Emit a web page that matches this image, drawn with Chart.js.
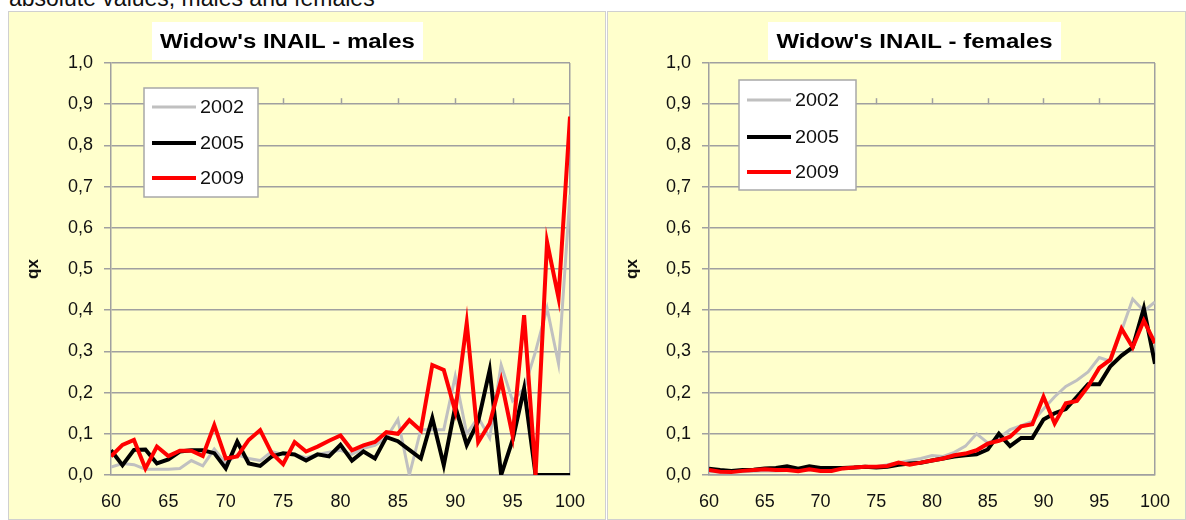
<!DOCTYPE html>
<html>
<head>
<meta charset="utf-8">
<script src="https://cdn.jsdelivr.net/npm/chart.js@4.4.1/dist/chart.umd.min.js"></script>
<style>
    body { margin: 0; background: #fff; width: 1186px; height: 520px; overflow: hidden; position: relative; font-family: "Liberation Sans", Arial, sans-serif; }
    #caption { position: absolute; left: 9px; top: -15px; font-size: 23px; color: #111; white-space: nowrap; }
    .panel { position: absolute; top: 11px; height: 509px; background: #FFFFCC; border: 1px solid #d0d0d0; box-sizing: border-box; }
    canvas { position: absolute; top: 12px; }
</style>
</head>
<body>
<div id="caption">absolute values, males and females</div>
<div class="panel" style="left:8px; width:598px;"></div>
<div class="panel" style="left:607px; width:579px;"></div>
<canvas id="chartMales" width="597" height="508" style="left:9px"></canvas>
<canvas id="chartFemales" width="578" height="508" style="left:608px"></canvas>
<script>
// ages (x axis)
const AGES = [60, 61, 62, 63, 64, 65, 66, 67, 68, 69, 70, 71, 72, 73, 74, 75, 76, 77, 78, 79, 80,
              81, 82, 83, 84, 85, 86, 87, 88, 89, 90, 91, 92, 93, 94, 95, 96, 97, 98, 99, 100];
const YEARS = ["2002", "2005", "2009"];

// qx - males
const MALES_2002 = [0.019, 0.028, 0.025, 0.014, 0.014, 0.014, 0.016, 0.035, 0.022, 0.063, 0.028,
                    0.049, 0.040, 0.035, 0.057, 0.050, 0.050, 0.042, 0.050, 0.055, 0.060,
                    0.050, 0.065, 0.072, 0.090, 0.135, 0.000, 0.110, 0.110, 0.110, 0.240,
                    0.100, 0.140, 0.090, 0.267, 0.180, 0.210, 0.300, 0.405, 0.270, 0.680];
const MALES_2005 = [0.060, 0.024, 0.061, 0.062, 0.028, 0.038, 0.057, 0.060, 0.060, 0.053, 0.016,
                    0.081, 0.028, 0.022, 0.045, 0.053, 0.050, 0.035, 0.050, 0.045, 0.073,
                    0.035, 0.057, 0.040, 0.092, 0.082, 0.061, 0.040, 0.138, 0.024, 0.166,
                    0.073, 0.130, 0.255, 0.000, 0.085, 0.210, 0.000, 0.000, 0.000, 0.000];
const MALES_2009 = [0.045, 0.073, 0.085, 0.016, 0.069, 0.046, 0.059, 0.059, 0.046, 0.121, 0.040,
                    0.045, 0.085, 0.109, 0.053, 0.026, 0.080, 0.057, 0.069, 0.083, 0.096,
                    0.060, 0.072, 0.080, 0.104, 0.100, 0.133, 0.108, 0.267, 0.255, 0.155,
                    0.369, 0.080, 0.125, 0.230, 0.095, 0.388, 0.000, 0.566, 0.430, 0.870];

// qx - females
const FEMALES_2002 = [0.008, 0.007, 0.007, 0.008, 0.009, 0.010, 0.010, 0.011, 0.011, 0.012, 0.012,
                      0.013, 0.015, 0.017, 0.019, 0.020, 0.025, 0.030, 0.035, 0.040, 0.047,
                      0.045, 0.055, 0.070, 0.100, 0.078, 0.090, 0.110, 0.120, 0.130, 0.160,
                      0.190, 0.215, 0.230, 0.250, 0.285, 0.276, 0.350, 0.427, 0.398, 0.420];
const FEMALES_2005 = [0.015, 0.012, 0.010, 0.012, 0.013, 0.016, 0.017, 0.021, 0.015, 0.021, 0.017,
                      0.017, 0.017, 0.018, 0.020, 0.018, 0.020, 0.025, 0.028, 0.030, 0.035,
                      0.040, 0.045, 0.048, 0.050, 0.062, 0.100, 0.070, 0.090, 0.090, 0.135,
                      0.150, 0.160, 0.190, 0.220, 0.220, 0.264, 0.290, 0.310, 0.405, 0.270];
const FEMALES_2009 = [0.012, 0.008, 0.007, 0.010, 0.012, 0.014, 0.012, 0.012, 0.009, 0.014, 0.010,
                      0.010, 0.016, 0.018, 0.020, 0.020, 0.022, 0.030, 0.025, 0.030, 0.035,
                      0.040, 0.048, 0.052, 0.060, 0.076, 0.083, 0.093, 0.118, 0.123, 0.190,
                      0.125, 0.174, 0.180, 0.215, 0.260, 0.280, 0.355, 0.310, 0.375, 0.320];

const FONT = '"Liberation Sans", Arial, sans-serif';
const GRID = "#a0a0a0";
Chart.defaults.font.family = FONT;
Chart.defaults.color = "#111";

function points(vals) {
    return AGES.map((a, i) => ({ x: a, y: vals[i] }));
}

// title box, legend box and the little up-ticks on the 0,9 line
const panelDecor = {
    id: "panelDecor",
    beforeDatasetsDraw(chart) {
        const { ctx, scales: { x, y } } = chart;
        const py = y.getPixelForValue(0.9);
        ctx.save();
        ctx.strokeStyle = GRID;
        ctx.lineWidth = 1.5;
        x.ticks.forEach((t) => {
            if (t.value <= 60 || t.value >= 100) return;
            const px = Math.round(x.getPixelForValue(t.value)) + 0.5;
            ctx.beginPath();
            ctx.moveTo(px, py);
            ctx.lineTo(px, py - 6);
            ctx.stroke();
        });
        ctx.restore();
    },
    afterDraw(chart, args, o) {
        const ctx = chart.ctx;
        ctx.save();
        // title
        ctx.fillStyle = "#fff";
        ctx.fillRect(o.titleBox[0], o.titleBox[1], o.titleBox[2], o.titleBox[3]);
        ctx.translate(o.titleBox[0] + o.titleBox[2] / 2, o.titleBox[1] + o.titleBox[3] / 2 + 1);
        ctx.scale(1.2, 1);
        ctx.font = "bold 20px " + FONT;
        ctx.fillStyle = "#000";
        ctx.textAlign = "center";
        ctx.textBaseline = "middle";
        ctx.fillText(o.title, 0, 0);
        ctx.restore();

        // legend
        const [lx, ly, lw, lh] = o.legendBox;
        ctx.save();
        ctx.fillStyle = "#fff";
        ctx.fillRect(lx, ly, lw, lh);
        ctx.strokeStyle = "#a8a8a8";
        ctx.lineWidth = 1.5;
        ctx.strokeRect(lx, ly, lw, lh);
        ctx.font = "18px " + FONT;
        ctx.textBaseline = "middle";
        chart.data.datasets.forEach((ds, i) => {
            const yy = o.rows[i];
            ctx.strokeStyle = ds.borderColor;
            ctx.lineWidth = ds.borderWidth;
            ctx.beginPath();
            ctx.moveTo(lx + 8, yy);
            ctx.lineTo(lx + 52, yy);
            ctx.stroke();
            ctx.fillStyle = "#111";
            ctx.save();
            ctx.translate(lx + 56, yy + 1);
            ctx.scale(1.1, 1);
            ctx.fillText(ds.label, 0, 0);
            ctx.restore();
        });
        ctx.restore();
    }
};

function makeChart(id, s2002, s2005, s2009, decor, yWidth, padRight) {
    new Chart(document.getElementById(id), {
        type: "line",
        data: {
            datasets: [
                { label: YEARS[0], data: points(s2002), borderColor: "#c0c0c0", borderWidth: 3, order: 3 },
                { label: YEARS[1], data: points(s2005), borderColor: "#000000", borderWidth: 4, order: 2 },
                { label: YEARS[2], data: points(s2009), borderColor: "#ff0000", borderWidth: 4, order: 1 }
            ]
        },
        options: {
            responsive: false,
            animation: false,
            events: [],
            layout: { padding: { top: 51, right: padRight, left: 0, bottom: 0 } },
            elements: {
                line: { tension: 0, borderJoinStyle: "miter" },
                point: { radius: 0 }
            },
            plugins: {
                legend: { display: false },
                tooltip: { enabled: false },
                panelDecor: decor
            },
            scales: {
                x: {
                    type: "linear",
                    min: 60,
                    max: 100,
                    afterFit: (s) => { s.height = 45; },
                    ticks: { stepSize: 5, padding: 16, font: { size: 18 }, color: "#111" },
                    grid: {
                        drawTicks: false,
                        lineWidth: 1.5,
                        color: (c) => (c.tick && c.tick.value === 100 ? GRID : "rgba(0,0,0,0)")
                    },
                    border: { color: GRID, width: 1.5 }
                },
                y: {
                    min: 0,
                    max: 1,
                    afterFit: (s) => { s.width = yWidth; },
                    ticks: {
                        stepSize: 0.1,
                        padding: 11,
                        font: { size: 18 },
                        color: "#111",
                        callback: (v) => v.toFixed(1).replace(".", ",")
                    },
                    grid: { color: GRID, lineWidth: 1.5, tickLength: 7 },
                    border: { color: GRID, width: 1.5 },
                    title: { display: true, text: "qx", font: { size: 17, weight: "bold" }, color: "#111", padding: { top: 14 } }
                }
            }
        },
        plugins: [panelDecor]
    });
}

makeChart("chartMales", MALES_2002, MALES_2005, MALES_2009, {
    title: "Widow's INAIL - males",
    titleBox: [143, 10, 271, 38],
    legendBox: [135, 76, 114, 109],
    rows: [95, 131, 166]
}, 102, 36);

makeChart("chartFemales", FEMALES_2002, FEMALES_2005, FEMALES_2009, {
    title: "Widow's INAIL - females",
    titleBox: [160, 10, 293, 38],
    legendBox: [131, 68, 117, 110],
    rows: [88, 125, 160]
}, 101, 22);
</script>
</body>
</html>
